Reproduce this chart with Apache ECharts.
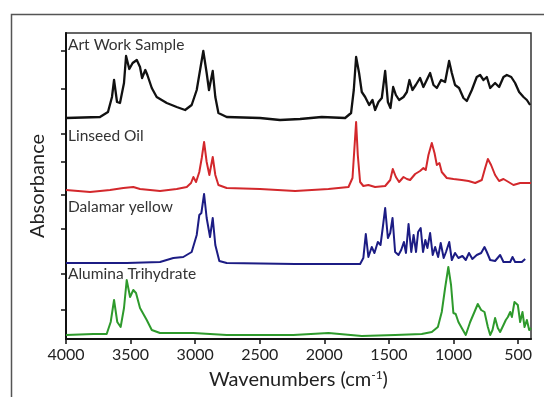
<!DOCTYPE html>
<html lang="en" style="height: 100%">
<head>
  <meta charset="utf-8">
</head>
<body style="height: 100%; margin: 0; background-color: #fff">
  <div id="container" style="width: 544px; height: 397px"></div>
  <script src="https://cdn.jsdelivr.net/npm/echarts@6.0.0/dist/echarts.min.js"></script>
  <script>
    // x tick labels (wavenumber, axis is reversed)
    var xTicks = [4000, 3500, 3000, 2500, 2000, 1500, 1000, 500];
    // y ticks on the left (no labels, stacked traces)
    var yTicks = [29, 65, 110, 144, 177, 205, 250, 288];

    // [wavenumber, stacked absorbance]
    var artWork = [
      [4000, 221], [3737, 222], [3675, 227], [3644, 242], [3628, 259], [3605, 237], [3582, 236],
      [3551, 256], [3535, 283], [3510, 270], [3484, 276], [3452, 279], [3427, 272], [3411, 261],
      [3386, 269], [3370, 264], [3336, 251], [3298, 242], [3220, 236], [3143, 232], [3078, 229],
      [3027, 234], [2988, 249], [2962, 269], [2937, 288], [2911, 266], [2893, 249], [2864, 268],
      [2844, 242], [2820, 226], [2756, 222], [2498, 221], [2343, 219], [2188, 220], [2020, 222],
      [1839, 221], [1793, 226], [1772, 249], [1754, 282], [1731, 266], [1710, 247], [1684, 242],
      [1653, 234], [1627, 239], [1607, 229], [1581, 237], [1555, 241], [1529, 268], [1508, 237],
      [1488, 231], [1467, 252], [1446, 244], [1421, 239], [1387, 242], [1361, 247], [1341, 259],
      [1318, 249], [1292, 254], [1259, 261], [1233, 252], [1207, 259], [1181, 266], [1155, 254],
      [1129, 251], [1096, 259], [1065, 257], [1034, 278], [1013, 266], [988, 254], [957, 251],
      [923, 241], [897, 238], [858, 249], [820, 262], [794, 264], [768, 259], [742, 262],
      [716, 251], [678, 256], [647, 252], [613, 262], [587, 264], [553, 262], [523, 256],
      [492, 247], [458, 242], [432, 239], [407, 234]
    ];
    var linseedOil = [
      [4000, 149], [3814, 147], [3659, 149], [3556, 151], [3479, 152], [3427, 150], [3272, 148],
      [3143, 150], [3065, 152], [3032, 156], [3014, 162], [2993, 157], [2968, 167], [2949, 181],
      [2931, 197], [2911, 177], [2890, 164], [2864, 182], [2844, 164], [2820, 154], [2756, 151],
      [2498, 150], [2226, 148], [1968, 150], [1813, 152], [1782, 161], [1767, 191], [1754, 217],
      [1741, 184], [1723, 157], [1698, 153], [1659, 154], [1607, 152], [1529, 153], [1490, 159],
      [1470, 170], [1446, 162], [1421, 157], [1387, 162], [1361, 160], [1336, 159], [1297, 165],
      [1259, 168], [1233, 171], [1215, 169], [1194, 184], [1168, 196], [1147, 186], [1129, 174],
      [1109, 176], [1091, 167], [1052, 161], [1000, 160], [936, 159], [884, 158], [832, 156],
      [781, 159], [755, 171], [734, 180], [709, 174], [678, 164], [647, 158], [613, 160],
      [574, 157], [536, 154], [484, 156], [420, 156], [400, 156]
    ];
    var dalamarYellow = [
      [4000, 76], [3530, 76], [3272, 77], [3169, 81], [3092, 82], [3027, 87], [2988, 104],
      [2968, 124], [2952, 126], [2931, 145], [2911, 121], [2885, 102], [2864, 121], [2844, 94],
      [2813, 78], [2756, 76], [2226, 75], [1723, 75], [1698, 81], [1679, 105], [1659, 82],
      [1633, 92], [1612, 86], [1586, 97], [1565, 94], [1547, 112], [1529, 131], [1508, 101],
      [1490, 106], [1472, 121], [1452, 87], [1426, 84], [1405, 89], [1384, 97], [1368, 86],
      [1348, 115], [1327, 87], [1309, 104], [1290, 87], [1274, 107], [1254, 111], [1236, 87],
      [1218, 99], [1202, 91], [1181, 106], [1161, 84], [1142, 92], [1119, 82], [1099, 96],
      [1076, 81], [1058, 87], [1033, 97], [1013, 79], [988, 86], [962, 81], [931, 83],
      [905, 79], [880, 86], [854, 80], [820, 84], [786, 86], [760, 92], [742, 87], [716, 79],
      [678, 78], [639, 84], [613, 77], [561, 77], [543, 82], [523, 77], [471, 77], [445, 80]
    ];
    var aluminaTrihydrate = [
      [4000, 4], [3789, 5], [3685, 5], [3654, 17], [3628, 39], [3603, 17], [3577, 12],
      [3551, 31], [3530, 59], [3504, 42], [3479, 49], [3458, 46], [3427, 31], [3401, 25],
      [3375, 19], [3336, 9], [3272, 6], [3014, 6], [2756, 4], [2240, 4], [1968, 6], [1710, 3],
      [1452, 4], [1246, 5], [1168, 7], [1121, 12], [1091, 27], [1065, 51], [1040, 72],
      [1019, 54], [1001, 26], [983, 25], [962, 17], [936, 11], [905, 4], [871, 17], [838, 27],
      [812, 35], [786, 29], [760, 27], [734, 12], [716, 4], [698, 9], [678, 21], [657, 11],
      [639, 7], [613, 14], [595, 19], [579, 22], [561, 27], [548, 22], [528, 37], [502, 34],
      [484, 17], [466, 27], [450, 12], [432, 19], [414, 9], [400, 11]
    ];
    var seriesNames = ['Art Work Sample', 'Linseed Oil', 'Dalamar yellow', 'Alumina Trihydrate'];
    var seriesColors = ['#111111', '#d3282c', '#1c1c84', '#2e9a2c'];
    var seriesWidths = [2.3, 2, 2, 2];
    var seriesData = [artWork, linseedOil, dalamarYellow, aluminaTrihydrate];
    // label baselines (pixel y of text centre)
    var labelY = [45, 136, 207, 274];

    var font = 'Lato, "Open Sans", sans-serif';
    var myChart = echarts.init(document.getElementById('container'), null, { renderer: 'canvas' });

    var series = seriesData.map(function (d, i) {
      return {
        name: seriesNames[i],
        type: 'line',
        data: d,
        showSymbol: false,
        smooth: false,
        animation: false,
        lineStyle: { color: seriesColors[i], width: seriesWidths[i], join: 'round' }
      };
    });

    var option = {
      animation: false,
      grid: {
        left: 66, top: 33, right: 13, bottom: 58,
        show: true, borderColor: '#333', borderWidth: 1.5, backgroundColor: 'transparent'
      },
      xAxis: {
        type: 'value',
        inverse: true,
        min: 400,
        max: 4000,
        name: 'Wavenumbers (cm{sup|-1})',
        nameLocation: 'middle',
        nameGap: 30,
        nameTextStyle: {
          fontFamily: font, fontSize: 20, color: '#222',
          rich: { sup: { fontFamily: font, fontSize: 12, color: '#222', verticalAlign: 'top', padding: [0, 0, 10, 0] } }
        },
        axisLine: { show: true, lineStyle: { color: '#111', width: 2 } },
        axisTick: { show: true, length: 5, customValues: xTicks, lineStyle: { color: '#111', width: 1.5 } },
        axisLabel: {
          customValues: xTicks, fontFamily: font, fontSize: 16, color: '#222', margin: 8,
          formatter: function (v) { return String(v); }
        },
        splitLine: { show: false }
      },
      yAxis: {
        type: 'value',
        min: 0,
        max: 306,
        name: 'Absorbance',
        nameLocation: 'middle',
        nameGap: 18,
        nameTextStyle: { fontFamily: font, fontSize: 20, color: '#222' },
        axisLine: { show: true, lineStyle: { color: '#111', width: 2 } },
        axisTick: { show: true, length: 5, customValues: yTicks, lineStyle: { color: '#111', width: 1.5 } },
        axisLabel: { show: false },
        splitLine: { show: false }
      },
      graphic: [
        {
          type: 'rect', left: 9, top: 12, silent: true,
          shape: { width: 600, height: 420 },
          style: { fill: 'none', stroke: '#555', lineWidth: 1.5 }
        }
      ].concat(seriesNames.map(function (n, i) {
        return {
          type: 'text', x: 68, y: labelY[i], silent: true,
          style: { text: n, fontFamily: font, fontSize: 15.5, fill: '#333', verticalAlign: 'middle' }
        };
      })),
      series: series
    };

    myChart.setOption(option);
  </script>
</body>
</html>
